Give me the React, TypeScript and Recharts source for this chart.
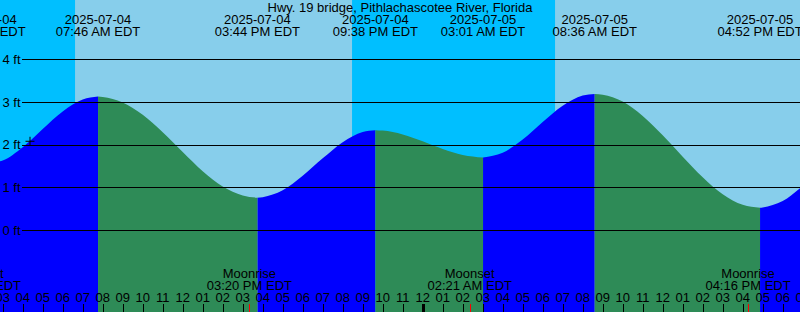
import React from "react";
import { ComposedChart, Area, XAxis, YAxis, ReferenceArea, Scatter } from "recharts";

const W = 800;
const H = 312;
const FONT = '"Liberation Sans", Arial, sans-serif';
const THIN = 0.01; // axes must have a size to be drawn at all

// hours counted from 2025-07-04 00:00 EDT
const startHour = 2.865;
const endHour = 42.865;

const stationName = "Hwy. 19 bridge, Pithlachascotee River, Florida";

// high and low tides
const tideHours = [2.033, 7.767, 15.733, 21.633, 27.017, 32.6, 40.867];
const tideLevels = [1.53, 3.13, 0.757, 2.34, 1.7, 3.19, 0.52];
const tideDates = ["2025-07-04", "2025-07-04", "2025-07-04", "2025-07-04", "2025-07-05", "2025-07-05", "2025-07-05"];
const tideTimes = ["02:02 AM EDT", "07:46 AM EDT", "03:44 PM EDT", "09:38 PM EDT", "03:01 AM EDT", "08:36 AM EDT", "04:52 PM EDT"];

// water level (ft) every hour
const sampleHours = [
  2.865, 3, 4, 5, 6, 7, 8, 9, 10, 11, 12, 13, 14, 15, 16, 17, 18, 19, 20, 21, 22,
  23, 24, 25, 26, 28, 29, 30, 31, 32, 33, 34, 35, 36, 37, 38, 39, 40, 41, 42, 42.865,
];
const sampleLevels = [
  1.61, 1.63, 1.94, 2.37, 2.78, 3.06, 3.12, 2.99, 2.7, 2.29, 1.83, 1.38, 1.02, 0.81, 0.77, 0.93, 1.27, 1.68, 2.06, 2.3, 2.33,
  2.24, 2.08, 1.9, 1.76, 1.81, 2.12, 2.53, 2.91, 3.15, 3.17, 3.01, 2.67, 2.22, 1.72, 1.24, 0.84, 0.59, 0.53, 0.68, 0.98,
];

// daylight
const sunriseHours = [6.617, 30.617];
const sunsetHours = [20.467, endHour];

// moon
const moonHours = [1.8, 15.333, 26.35, 40.267];
const moonEvents = ["Moonset", "Moonrise", "Moonset", "Moonrise"];
const moonTimes = ["01:48 AM EDT", "03:20 PM EDT", "02:21 AM EDT", "04:16 PM EDT"];

// current time marker
const nowHour = 4.365;
const nowLevel = 2.08;

const hourTicks = Array.from({ length: 41 }, (_, i) => i + 3);
const levelTicks = [0, 1, 2, 3, 4];

const points = [
  ...tideHours.map((h, i) => ({ h, level: tideLevels[i], turn: true })),
  ...sampleHours.map((h, i) => ({ h, level: sampleLevels[i], turn: false })),
].sort((a, b) => a.h - b.h);

const rows = points.map((p, i) => {
  const next = points[i + 1];
  const prev = points[i - 1];
  const rising = next ? next.level > p.level : p.level > prev.level;
  return {
    h: p.h,
    rise: p.turn || rising ? p.level : null,
    fall: p.turn || !rising ? p.level : null,
  };
});

const hourLabel = (h: number) => {
  const v = h % 12 === 0 ? 12 : h % 12;
  return String(v).padStart(2, "0");
};

function HourTick({ x, payload }: any) {
  const px = Math.round(x) + 0.5;
  const midnight = payload.value % 24 === 0;
  return (
    <g>
      <text x={x} y={H - 10} textAnchor="middle" fontSize={13} fontFamily={FONT} fill="#000">
        {hourLabel(payload.value)}
      </text>
      <line x1={px} x2={px} y1={H - 8} y2={H} stroke="#000" strokeWidth={midnight ? 3 : 1} />
    </g>
  );
}

function TideTick({ x, payload }: any) {
  const i = tideHours.indexOf(payload.value);
  return (
    <g fontSize={13} fontFamily={FONT} fill="#000">
      <text x={x} y={24} textAnchor="middle">{tideDates[i]}</text>
      <text x={x} y={36} textAnchor="middle">{tideTimes[i]}</text>
    </g>
  );
}

function MoonTick({ x, payload }: any) {
  const i = moonHours.indexOf(payload.value);
  const px = Math.round(x) + 0.5;
  return (
    <g fontSize={13} fontFamily={FONT} fill="#000">
      <text x={x} y={H - 34} textAnchor="middle">{moonEvents[i]}</text>
      <text x={x} y={H - 22.5} textAnchor="middle">{moonTimes[i]}</text>
      <line x1={px} x2={px} y1={H - 8} y2={H} stroke="#ff0000" strokeWidth={1} />
    </g>
  );
}

function LevelTick({ y, payload }: any) {
  const py = Math.round(y) + 0.5;
  return (
    <g>
      <text x={2.5} y={y + 4.5} fontSize={13} fontFamily={FONT} fill="#000">
        {payload.value} ft
      </text>
      <line x1={22} x2={W} y1={py} y2={py} stroke="#000" strokeWidth={1} />
    </g>
  );
}

function PlusMark({ cx, cy }: any) {
  return (
    <g stroke="#000" strokeWidth={1}>
      <line x1={cx - 4.5} x2={cx + 4.5} y1={cy} y2={cy} />
      <line x1={cx} x2={cx} y1={cy - 4.5} y2={cy + 4.5} />
    </g>
  );
}

const axisCommon = {
  dataKey: "h",
  type: "number" as const,
  domain: [startHour, endHour],
  allowDataOverflow: true,
  interval: 0 as const,
  height: THIN,
  mirror: true,
  tickSize: 0,
  tickMargin: 0,
  axisLine: false,
  tickLine: false,
};

export default function App() {
  return (
    <div style={{ position: "absolute", left: 0, top: 0, width: W, height: H, overflow: "hidden" }}>
      <ComposedChart width={W} height={H} data={rows} margin={{ top: 0, right: 0, bottom: 0, left: 0 }}>
        <ReferenceArea x1={startHour} x2={endHour} fill="#00BFFF" fillOpacity={1} stroke="none" />
        {sunriseHours.map((h, i) => (
          <ReferenceArea key={i} x1={h} x2={sunsetHours[i]} fill="#87CEEB" fillOpacity={1} stroke="none" />
        ))}
        <Area
          dataKey="rise"
          type="monotone"
          fill="#0000FF"
          fillOpacity={1}
          stroke="none"
          baseValue="dataMin"
          dot={false}
          activeDot={false}
          isAnimationActive={false}
        />
        <Area
          dataKey="fall"
          type="monotone"
          fill="#2E8B57"
          fillOpacity={1}
          stroke="none"
          baseValue="dataMin"
          dot={false}
          activeDot={false}
          isAnimationActive={false}
        />
        <XAxis {...axisCommon} ticks={hourTicks} tick={<HourTick />} />
        <XAxis xAxisId="tides" orientation="top" {...axisCommon} ticks={tideHours} tick={<TideTick />} />
        <XAxis xAxisId="moon" {...axisCommon} ticks={moonHours} tick={<MoonTick />} />
        <YAxis
          type="number"
          domain={[-1.92, 5.39]}
          allowDataOverflow
          ticks={levelTicks}
          interval={0}
          width={THIN}
          mirror
          tickSize={0}
          tickMargin={0}
          axisLine={false}
          tickLine={false}
          tick={<LevelTick />}
        />
        <Scatter data={[{ h: nowHour, level: nowLevel }]} dataKey="level" shape={<PlusMark />} isAnimationActive={false} />
      </ComposedChart>
      <svg width={W} height={20} style={{ position: "absolute", left: 0, top: 0, pointerEvents: "none" }}>
        <text x={W / 2} y={12} textAnchor="middle" fontSize={13} fontFamily={FONT} fill="#000">
          {stationName}
        </text>
      </svg>
    </div>
  );
}
